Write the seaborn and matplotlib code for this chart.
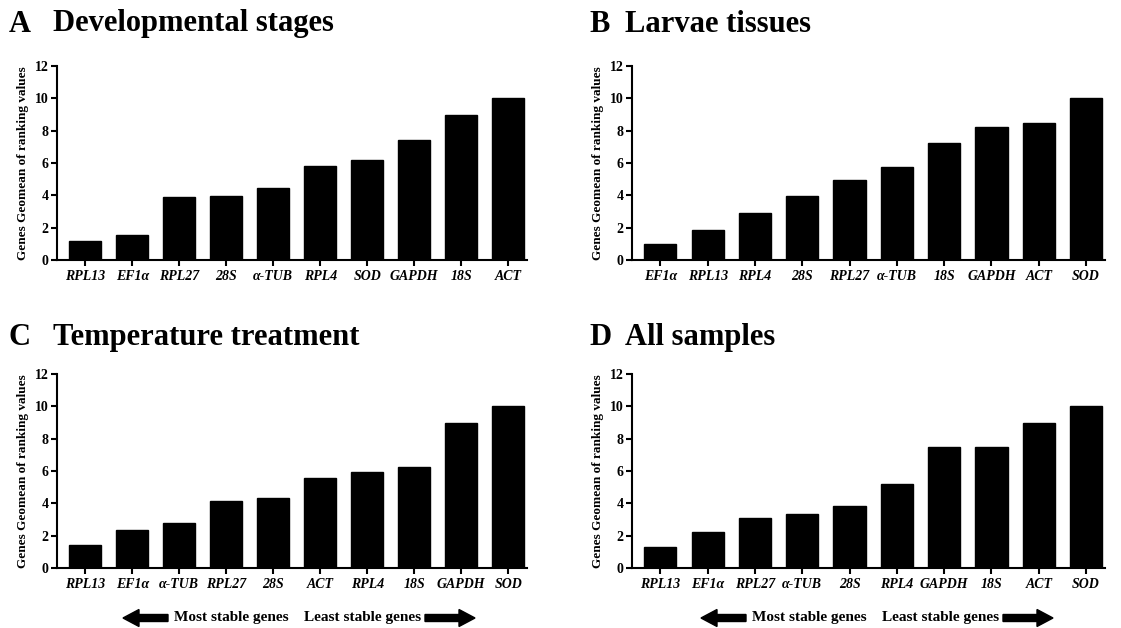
import matplotlib
matplotlib.use("Agg")
import matplotlib.pyplot as plt
from matplotlib.patches import FancyArrow
import pandas as pd
import seaborn as sns

# gene order and geomean values for each panel
genes_a = ["RPL13", "EF1α", "RPL27", "28S", "α-TUB", "RPL4", "SOD", "GAPDH", "18S", "ACT"]
vals_a = [1.19, 1.57, 3.87, 3.96, 4.43, 5.79, 6.16, 7.42, 9.0, 10.0]

genes_b = ["EF1α", "RPL13", "RPL4", "28S", "RPL27", "α-TUB", "18S", "GAPDH", "ACT", "SOD"]
vals_b = [1.0, 1.86, 2.91, 3.94, 4.95, 5.73, 7.21, 8.21, 8.49, 10.0]

genes_c = ["RPL13", "EF1α", "α-TUB", "RPL27", "28S", "ACT", "RPL4", "18S", "GAPDH", "SOD"]
vals_c = [1.41, 2.34, 2.78, 4.12, 4.30, 5.57, 5.96, 6.26, 9.0, 10.0]

genes_d = ["RPL13", "EF1α", "RPL27", "α-TUB", "28S", "RPL4", "GAPDH", "18S", "ACT", "SOD"]
vals_d = [1.32, 2.21, 3.08, 3.36, 3.83, 5.21, 7.48, 7.48, 9.0, 10.0]

panel_letters = ["A", "B", "C", "D"]
panel_titles = ["Developmental stages", "Larvae tissues", "Temperature treatment", "All samples"]

sns.set_style("ticks")
plt.rcParams["font.family"] = ["Liberation Serif", "DejaVu Serif"]
plt.rcParams["font.weight"] = "bold"
plt.rcParams["text.color"] = "black"
plt.rcParams["axes.labelcolor"] = "black"
plt.rcParams["axes.edgecolor"] = "black"
plt.rcParams["xtick.color"] = "black"
plt.rcParams["ytick.color"] = "black"

W, H = 1121, 628
fig = plt.figure(figsize=(W / 100, H / 100), dpi=100)

# axes boxes in pixels: left, right, top, bottom
boxes = [(57, 527, 66, 260), (632, 1105, 66, 260),
         (57, 527, 374, 568), (632, 1105, 374, 568)]
title_y = [24, 24, 337, 337]
data = [(genes_a, vals_a), (genes_b, vals_b), (genes_c, vals_c), (genes_d, vals_d)]

for i, ((l, r, t, b), (g, v)) in enumerate(zip(boxes, data)):
    ax = fig.add_axes([l / W, 1 - b / H, (r - l) / W, (b - t) / H])
    df = pd.DataFrame({"gene": g, "value": v})
    sns.barplot(data=df, x="gene", y="value", color="black", width=0.68,
                saturation=1, edgecolor="black", ax=ax)
    ax.set_ylim(0, 12)
    ax.set_yticks(range(0, 13, 2))
    ax.set_xlim(-0.6, 9.4)
    ax.set_xlabel("")
    ax.set_ylabel("Genes Geomean of ranking values", fontsize=9.5,
                  fontweight="bold", labelpad=4)
    ax.tick_params(axis="y", labelsize=10, width=1.5, length=4, pad=2)
    ax.tick_params(axis="x", labelsize=10, width=1.5, length=4, pad=3)
    for lab in ax.get_xticklabels():
        lab.set_fontstyle("italic")
        lab.set_fontweight("bold")
    for lab in ax.get_yticklabels():
        lab.set_fontweight("bold")
    for s in ["left", "bottom"]:
        ax.spines[s].set_linewidth(1.5)
    sns.despine(ax=ax)

    if i % 2 == 0:
        x0, gap = 9, 44
    else:
        x0, gap = 589, 36
    fig.text(x0 / W, 1 - title_y[i] / H, panel_letters[i], fontsize=22,
             fontweight="bold", va="center", ha="left")
    fig.text((x0 + gap) / W, 1 - title_y[i] / H, panel_titles[i], fontsize=22,
             fontweight="bold", va="center", ha="left")

# stability arrows under the bottom panels
ay = 618
for off in [0, 578]:
    fig.add_artist(FancyArrow((168 + off) / W, 1 - ay / H, -45 / W, 0,
                              width=7 / H, head_width=17 / H, head_length=16 / W,
                              length_includes_head=True, color="black",
                              transform=fig.transFigure))
    fig.add_artist(FancyArrow((425 + off) / W, 1 - ay / H, 50 / W, 0,
                              width=7 / H, head_width=17 / H, head_length=16 / W,
                              length_includes_head=True, color="black",
                              transform=fig.transFigure))
    fig.text((174 + off) / W, 1 - ay / H, "Most stable genes", fontsize=11,
             fontweight="bold", va="center", ha="left")
    fig.text((421 + off) / W, 1 - ay / H, "Least stable genes", fontsize=11,
             fontweight="bold", va="center", ha="right")

fig.savefig("out.png", dpi=100)
